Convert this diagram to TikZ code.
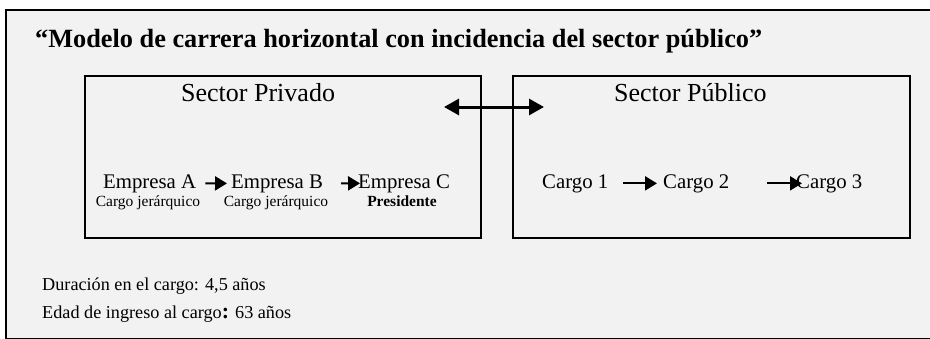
\documentclass[tikz,border=0pt]{standalone}
\usepackage{fontspec}
\setmainfont{Liberation Serif}
\usetikzlibrary{arrows.meta,positioning}
\definecolor{fondo}{RGB}{242,242,242}

\begin{document}
\begin{tikzpicture}[x=1pt, y=-1pt,
  txt/.style={inner sep=0pt, anchor=base west},
  caja/.style={draw, line width=1.6pt, inner sep=0pt, anchor=north west, minimum height=162pt},
  flecha/.style={arrows=-{Triangle[length=12pt,width=14pt]}, line width=2.2pt}]
\useasboundingbox (0,0) rectangle (930,338);
\fill[white] (0,0) rectangle (930,338);
\draw[line width=2pt, fill=fondo] (6,10) rectangle (945,338.5);

\node (titulo)[txt, font=\bfseries\fontsize{26.3}{30}\selectfont] at (35,47) {“Modelo de carrera horizontal con incidencia del sector público”};

% sectores
\coordinate (izq) at (444,107);
\coordinate (der) at (544,107);
\draw[arrows={Triangle[length=15pt,width=16pt]}-{Triangle[length=15pt,width=16pt]}, line width=3pt] (izq) -- (der);
\node (privado)[caja, minimum width=396pt] at (84,75) {};
\node (publico)[caja, minimum width=397pt] at (512,75) {};
\node (tpriv)[txt, font=\fontsize{26}{30}\selectfont] at (181,101.5) {Sector Privado};
\node (tpub)[txt, font=\fontsize{26}{30}\selectfont] at (614,101.5) {Sector Público};

% sector privado
\node (empA)[txt, font=\fontsize{20.8}{24}\selectfont] at (103,188) {Empresa A};
\node (empB)[txt, font=\fontsize{20.8}{24}\selectfont] at (231,188) {Empresa B};
\node (empC)[txt, font=\fontsize{20.8}{24}\selectfont] at (358,188) {Empresa C};
\node (cjA)[txt, anchor=base, font=\fontsize{15.5}{18}\selectfont] at (148,206) {Cargo jerárquico};
\node (cjB)[txt, anchor=base, font=\fontsize{15.5}{18}\selectfont] at (276,206) {Cargo jerárquico};
\node (pres)[txt, anchor=base, font=\bfseries\fontsize{15.5}{18}\selectfont] at (402,206) {Presidente};
\draw[flecha, shorten <=9pt, shorten >=4pt] (empA) -- (empB);
\draw[flecha, shorten <=18pt, shorten >=-2pt] (empB) -- (empC);

% sector publico
\node (c1)[txt, font=\fontsize{20.8}{24}\selectfont] at (542,188) {Cargo 1};
\node (c2)[txt, font=\fontsize{20.8}{24}\selectfont] at (663,188) {Cargo 2};
\node (c3)[txt, font=\fontsize{20.8}{24}\selectfont] at (796,188) {Cargo 3};
\draw[flecha, shorten <=15pt, shorten >=6pt] (c1) -- (c2);
\draw[flecha, shorten <=38pt, shorten >=-6pt] (c2) -- (c3);

% datos
\node (duracion)[txt, font=\fontsize{18.2}{22}\selectfont] at (42,290) {Duración en el cargo: 4,5 años};
\node (edad)[txt, font=\fontsize{18.2}{22}\selectfont] at (42,318) {Edad de ingreso al cargo{\fontsize{22}{24}\selectfont\bfseries :} 63 años};
\end{tikzpicture}
\end{document}
